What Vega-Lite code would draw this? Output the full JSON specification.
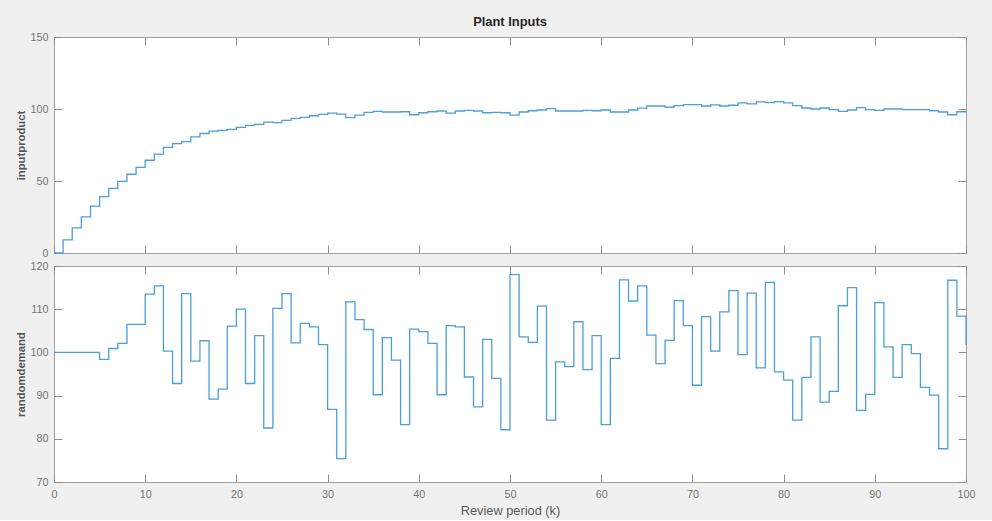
{
  "$schema": "https://vega.github.io/schema/vega-lite/v6.json",
  "background": "#f0f0f0",
  "padding": {"left": 15, "right": 26, "top": 15, "bottom": 1},
  "spacing": 0,
  "data": {"values": [
    {"k":0,"inputproduct":0,"randomdemand":100},
    {"k":1,"inputproduct":9.1,"randomdemand":100},
    {"k":2,"inputproduct":17.4,"randomdemand":100},
    {"k":3,"inputproduct":25.1,"randomdemand":100},
    {"k":4,"inputproduct":32.6,"randomdemand":100},
    {"k":5,"inputproduct":39.1,"randomdemand":98.4},
    {"k":6,"inputproduct":44.9,"randomdemand":100.9},
    {"k":7,"inputproduct":49.8,"randomdemand":102.1},
    {"k":8,"inputproduct":54.7,"randomdemand":106.5},
    {"k":9,"inputproduct":59.5,"randomdemand":106.5},
    {"k":10,"inputproduct":64.4,"randomdemand":113.5},
    {"k":11,"inputproduct":68.6,"randomdemand":115.4},
    {"k":12,"inputproduct":73.3,"randomdemand":100.3},
    {"k":13,"inputproduct":76.0,"randomdemand":92.8},
    {"k":14,"inputproduct":77.4,"randomdemand":113.6},
    {"k":15,"inputproduct":80.7,"randomdemand":98.0},
    {"k":16,"inputproduct":83.0,"randomdemand":102.7},
    {"k":17,"inputproduct":84.7,"randomdemand":89.2},
    {"k":18,"inputproduct":85.1,"randomdemand":91.5},
    {"k":19,"inputproduct":85.8,"randomdemand":106.1},
    {"k":20,"inputproduct":87.2,"randomdemand":110.0},
    {"k":21,"inputproduct":88.6,"randomdemand":92.8},
    {"k":22,"inputproduct":89.3,"randomdemand":103.9},
    {"k":23,"inputproduct":90.9,"randomdemand":82.5},
    {"k":24,"inputproduct":90.5,"randomdemand":110.2},
    {"k":25,"inputproduct":92.1,"randomdemand":113.6},
    {"k":26,"inputproduct":93.5,"randomdemand":102.2},
    {"k":27,"inputproduct":94.2,"randomdemand":106.7},
    {"k":28,"inputproduct":95.3,"randomdemand":105.9},
    {"k":29,"inputproduct":96.3,"randomdemand":101.8},
    {"k":30,"inputproduct":97.2,"randomdemand":86.8},
    {"k":31,"inputproduct":96.5,"randomdemand":75.4},
    {"k":32,"inputproduct":94.0,"randomdemand":111.7},
    {"k":33,"inputproduct":95.8,"randomdemand":107.6},
    {"k":34,"inputproduct":97.7,"randomdemand":105.3},
    {"k":35,"inputproduct":98.4,"randomdemand":90.2},
    {"k":36,"inputproduct":97.9,"randomdemand":103.4},
    {"k":37,"inputproduct":97.9,"randomdemand":98.2},
    {"k":38,"inputproduct":98.1,"randomdemand":83.3},
    {"k":39,"inputproduct":96.0,"randomdemand":105.4},
    {"k":40,"inputproduct":97.4,"randomdemand":104.8},
    {"k":41,"inputproduct":98.1,"randomdemand":102.1},
    {"k":42,"inputproduct":98.6,"randomdemand":90.2},
    {"k":43,"inputproduct":97.2,"randomdemand":106.2},
    {"k":44,"inputproduct":98.6,"randomdemand":105.9},
    {"k":45,"inputproduct":99.1,"randomdemand":94.3},
    {"k":46,"inputproduct":98.6,"randomdemand":87.4},
    {"k":47,"inputproduct":97.4,"randomdemand":103.0},
    {"k":48,"inputproduct":97.7,"randomdemand":94.0},
    {"k":49,"inputproduct":97.4,"randomdemand":82.1},
    {"k":50,"inputproduct":95.8,"randomdemand":118.0},
    {"k":51,"inputproduct":97.9,"randomdemand":103.6},
    {"k":52,"inputproduct":98.8,"randomdemand":102.3},
    {"k":53,"inputproduct":99.3,"randomdemand":110.7},
    {"k":54,"inputproduct":100.2,"randomdemand":84.3},
    {"k":55,"inputproduct":98.6,"randomdemand":97.8},
    {"k":56,"inputproduct":98.6,"randomdemand":96.7},
    {"k":57,"inputproduct":98.6,"randomdemand":107.1},
    {"k":58,"inputproduct":99.0,"randomdemand":96.0},
    {"k":59,"inputproduct":98.8,"randomdemand":103.9},
    {"k":60,"inputproduct":99.3,"randomdemand":83.3},
    {"k":61,"inputproduct":97.9,"randomdemand":98.6},
    {"k":62,"inputproduct":97.9,"randomdemand":116.8},
    {"k":63,"inputproduct":99.3,"randomdemand":111.9},
    {"k":64,"inputproduct":100.6,"randomdemand":115.4},
    {"k":65,"inputproduct":102.1,"randomdemand":104.0},
    {"k":66,"inputproduct":102.1,"randomdemand":97.4},
    {"k":67,"inputproduct":101.2,"randomdemand":102.8},
    {"k":68,"inputproduct":102.3,"randomdemand":112.0},
    {"k":69,"inputproduct":103.0,"randomdemand":106.2},
    {"k":70,"inputproduct":103.0,"randomdemand":92.4},
    {"k":71,"inputproduct":102.1,"randomdemand":108.3},
    {"k":72,"inputproduct":102.8,"randomdemand":100.3},
    {"k":73,"inputproduct":102.1,"randomdemand":109.4},
    {"k":74,"inputproduct":102.6,"randomdemand":114.3},
    {"k":75,"inputproduct":104.2,"randomdemand":99.5},
    {"k":76,"inputproduct":103.5,"randomdemand":113.7},
    {"k":77,"inputproduct":104.9,"randomdemand":96.4},
    {"k":78,"inputproduct":104.4,"randomdemand":116.2},
    {"k":79,"inputproduct":105.1,"randomdemand":95.5},
    {"k":80,"inputproduct":104.2,"randomdemand":93.6},
    {"k":81,"inputproduct":102.3,"randomdemand":84.3},
    {"k":82,"inputproduct":100.7,"randomdemand":94.2},
    {"k":83,"inputproduct":100.0,"randomdemand":103.6},
    {"k":84,"inputproduct":100.7,"randomdemand":88.5},
    {"k":85,"inputproduct":99.5,"randomdemand":91.0},
    {"k":86,"inputproduct":98.4,"randomdemand":110.8},
    {"k":87,"inputproduct":99.3,"randomdemand":115.0},
    {"k":88,"inputproduct":100.9,"randomdemand":86.6},
    {"k":89,"inputproduct":99.5,"randomdemand":90.3},
    {"k":90,"inputproduct":99.1,"randomdemand":111.5},
    {"k":91,"inputproduct":100.0,"randomdemand":101.3},
    {"k":92,"inputproduct":100.0,"randomdemand":94.2},
    {"k":93,"inputproduct":99.5,"randomdemand":101.8},
    {"k":94,"inputproduct":99.5,"randomdemand":99.7},
    {"k":95,"inputproduct":99.5,"randomdemand":91.9},
    {"k":96,"inputproduct":98.8,"randomdemand":90.1},
    {"k":97,"inputproduct":97.9,"randomdemand":77.7},
    {"k":98,"inputproduct":96.0,"randomdemand":116.7},
    {"k":99,"inputproduct":98.1,"randomdemand":108.4},
    {"k":100,"inputproduct":98.6,"randomdemand":101.7}
  ]},
  "vconcat": [
    {
      "width": 912,
      "height": 216,
      "title": {"text": "Plant Inputs", "anchor": "middle", "frame": "group", "fontSize": 12.9, "fontWeight": "bold", "color": "#262626", "font": "Liberation Sans", "offset": 2},
      "layer": [
        {
          "mark": {"type": "line", "interpolate": "step-after", "color": "#4b9fdb", "strokeWidth": 1.3},
          "encoding": {
            "x": {"field": "k", "type": "quantitative", "scale": {"domain": [0, 100], "nice": false},
                  "axis": {"orient": "bottom", "values": [0,10,20,30,40,50,60,70,80,90,100], "labels": false, "title": null}},
            "y": {"field": "inputproduct", "type": "quantitative", "scale": {"domain": [0, 150], "nice": false},
                  "axis": {"orient": "left", "values": [0,50,100,150], "title": "inputproduct", "labelPadding": 14, "titlePadding": 3}}
          }
        },
        {
          "mark": {"type": "line", "interpolate": "step-after", "strokeOpacity": 0},
          "encoding": {
            "x": {"field": "k", "type": "quantitative",
                  "axis": {"orient": "top", "values": [0,10,20,30,40,50,60,70,80,90,100], "labels": false, "title": null}},
            "y": {"field": "inputproduct", "type": "quantitative",
                  "axis": {"orient": "right", "values": [0,50,100,150], "labels": false, "title": null}}
          }
        }
      ],
      "resolve": {"axis": {"x": "independent", "y": "independent"}}
    },
    {
      "width": 912,
      "height": 216,
      "layer": [
        {
          "mark": {"type": "line", "interpolate": "step-after", "color": "#4b9fdb", "strokeWidth": 1.3},
          "encoding": {
            "x": {"field": "k", "type": "quantitative", "scale": {"domain": [0, 100], "nice": false},
                  "axis": {"orient": "bottom", "values": [0,10,20,30,40,50,60,70,80,90,100], "title": "Review period (k)", "labelPadding": 14, "titlePadding": 6, "titleFontSize": 12.8, "titleFontWeight": "normal", "titleColor": "#5a5a5a"}},
            "y": {"field": "randomdemand", "type": "quantitative", "scale": {"domain": [70, 120], "nice": false},
                  "axis": {"orient": "left", "values": [70,80,90,100,110,120], "title": "randomdemand", "labelPadding": 14, "titlePadding": 3}}
          }
        },
        {
          "mark": {"type": "line", "interpolate": "step-after", "strokeOpacity": 0},
          "encoding": {
            "x": {"field": "k", "type": "quantitative",
                  "axis": {"orient": "top", "values": [0,10,20,30,40,50,60,70,80,90,100], "labels": false, "title": null}},
            "y": {"field": "randomdemand", "type": "quantitative",
                  "axis": {"orient": "right", "values": [70,80,90,100,110,120], "labels": false, "title": null}}
          }
        }
      ],
      "resolve": {"axis": {"x": "independent", "y": "independent"}}
    }
  ],
  "config": {
    "font": "Liberation Sans",
    "view": {"fill": "white", "stroke": "#a0a0a0", "strokeWidth": 1},
    "axis": {
      "grid": false,
      "domain": false,
      "tickColor": "#8f8f8f",
      "tickSize": -8,
      "tickWidth": 1,
      "labelColor": "#747474",
      "labelFontSize": 10.8,
      "labelFont": "Liberation Sans",
      "labelFlush": false,
      "labelOverlap": false,
      "titleFont": "Liberation Sans",
      "titleFontSize": 11.3,
      "titleFontWeight": "bold",
      "titleColor": "#555555"
    }
  }
}
